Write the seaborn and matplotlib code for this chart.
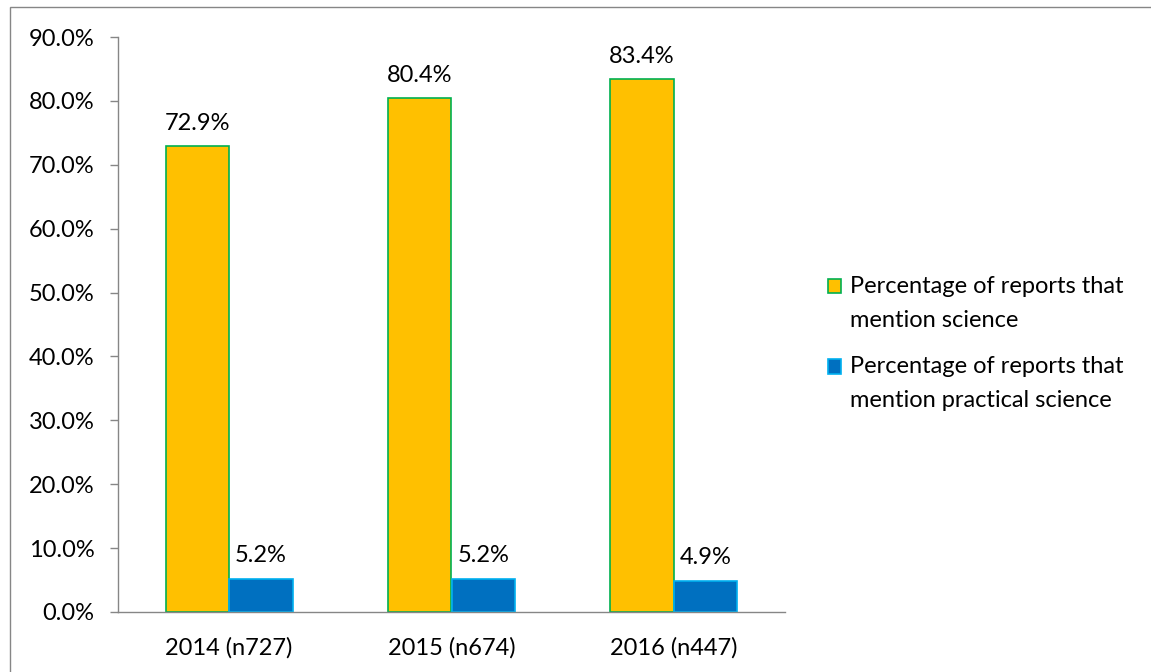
import matplotlib
matplotlib.use("Agg")
import matplotlib.pyplot as plt
import seaborn as sns
import pandas as pd
from matplotlib.patches import Rectangle

categories = ["2014 (n727)", "2015 (n674)", "2016 (n447)"]
series_names = ["Percentage of reports that\nmention science",
                "Percentage of reports that\nmention practical science"]
science = [72.9, 80.4, 83.4]
practical = [5.2, 5.2, 4.9]
y_ticks = [0, 10, 20, 30, 40, 50, 60, 70, 80, 90]

fill_colors = ["#FFC000", "#0070C0"]
edge_colors = ["#00B050", "#00B0F0"]

sns.set_style("white")
plt.rcParams['font.family'] = ['Lato', 'DejaVu Sans']
plt.rcParams['text.color'] = 'black'
FS = 17

df = pd.DataFrame({
    "category": categories * 2,
    "series": [series_names[0]] * 3 + [series_names[1]] * 3,
    "value": science + practical,
})

fig = plt.figure(figsize=(11.51, 6.72), dpi=100)
ax = fig.add_axes([118/1151, 1 - 612/672, (785-118)/1151, (612-37)/672])

sns.barplot(data=df, x="category", y="value", hue="series",
            palette=fill_colors, width=0.57, ax=ax, saturation=1,
            legend=True)

for cont, ec in zip(ax.containers, edge_colors):
    for bar in cont:
        bar.set_edgecolor(ec)
        bar.set_linewidth(1.2)
    ax.bar_label(cont, labels=[f"{v.get_height():.1f}%" for v in cont],
                 padding=9, fontsize=FS, color="black")

ax.set_ylim(0, 90)
ax.set_xlim(-0.5, 2.5)
ax.set_yticks(y_ticks)
ax.set_yticklabels([f"{t:.1f}%" for t in y_ticks], fontsize=FS)
ax.set_xlabel("")
ax.set_ylabel("")
ax.tick_params(axis="x", which="major", length=0, labelsize=FS, pad=18,
               labelcolor="black")
ax.set_xticks([-0.5, 0.5, 1.5, 2.5], minor=True)
ax.tick_params(axis="x", which="minor", length=6, color="#868686", width=1)
ax.tick_params(axis="y", length=6, color="#868686", width=1, left=True, pad=11,
               labelcolor="black")

for s in ["top", "right"]:
    ax.spines[s].set_visible(False)
for s in ["left", "bottom"]:
    ax.spines[s].set_color("#868686")
    ax.spines[s].set_linewidth(1)

handles, labels = ax.get_legend_handles_labels()
leg = ax.legend(handles, labels, loc="center left",
                bbox_to_anchor=((828-118)/667, (612-343.5)/575),
                frameon=False, fontsize=FS, handlelength=0.55, handleheight=0.55,
                handletextpad=0.4, labelspacing=1.1, borderpad=0,
                borderaxespad=0)
for t in leg.get_texts():
    t.set_linespacing(1.75)
    t.set_color("black")
for h, ec in zip(leg.legend_handles, edge_colors):
    h.set_edgecolor(ec)
    h.set_linewidth(1.2)
    h.set_y(h.get_y() + 12.6)

fig.patches.append(Rectangle((10/1151, -0.1), 1.2, 1 - 7/672 + 0.1,
                             transform=fig.transFigure, fill=False,
                             edgecolor="#868686", linewidth=1))

fig.savefig("out.png", dpi=100)
